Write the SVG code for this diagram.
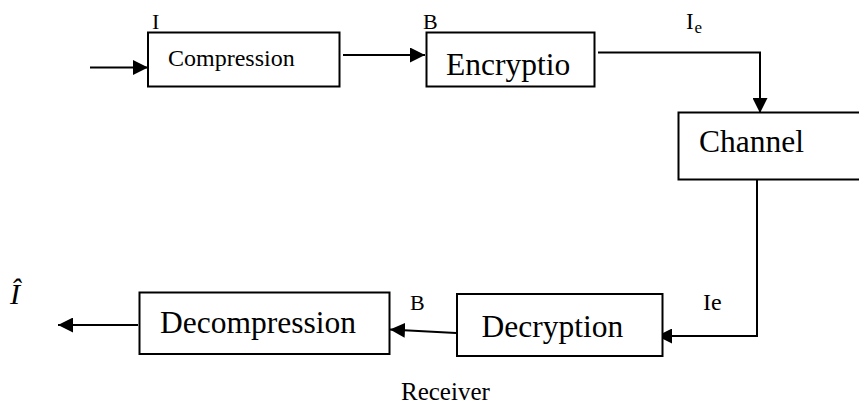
<svg xmlns="http://www.w3.org/2000/svg" width="859" height="406" viewBox="0 0 859 406">
  <style>
    .box { fill: #ffffff; stroke: #000000; stroke-width: 2; }
    .wire { fill: none; stroke: #000000; stroke-width: 2; }
    text { font-family: "Liberation Serif", "Times New Roman", serif; fill: #000000; }
    .big { font-size: 31.5px; }
    .mid { font-size: 24px; }
    .lbl { font-size: 22px; }
  </style>
  <defs>
    <marker id="head" viewBox="0 0 10 10" refX="10" refY="5" markerWidth="15" markerHeight="15" markerUnits="userSpaceOnUse" orient="auto">
      <path d="M0,0 L10,5 L0,10 Z" fill="#000000"/>
    </marker>
  </defs>

  <rect width="859" height="406" fill="#ffffff"/>

  <!-- connectors -->
  <g id="connectors">
    <line class="wire" x1="90" y1="67.5" x2="148" y2="67.5" marker-end="url(#head)"/>
    <line class="wire" x1="343" y1="55" x2="425" y2="55" marker-end="url(#head)"/>
    <polyline class="wire" points="598,52.5 760,52.5 760,113" marker-end="url(#head)"/>
    <polyline class="wire" points="757,180 757,336 657,336" marker-end="url(#head)"/>
    <line class="wire" x1="456" y1="333" x2="390" y2="329.5" marker-end="url(#head)"/>
    <line class="wire" x1="138" y1="325" x2="58" y2="325" marker-end="url(#head)"/>
  </g>

  <!-- signal labels -->
  <g id="labels">
    <text class="lbl" x="152" y="29">I</text>
    <text class="lbl" x="423" y="29">B</text>
    <text x="686" y="28.5" style="font-size:23px">I</text>
    <text x="694.5" y="32.5" style="font-size:17px">e</text>
    <text class="mid" x="703" y="310">Ie</text>
    <text class="lbl" x="410" y="310">B</text>
    <text x="10" y="303.5" style="font-size:30px;font-style:italic">Î</text>
    <text x="401" y="400" style="font-size:25px">Receiver</text>
  </g>

  <g id="compression">
    <rect class="box" x="148" y="32.5" width="191.5" height="54"/>
    <text class="mid" x="168" y="65.5">Compression</text>
  </g>

  <g id="encryption">
    <rect class="box" x="426.5" y="32.5" width="168" height="54"/>
    <text class="big" x="446" y="74.5">Encryptio</text>
  </g>

  <g id="channel">
    <rect class="box" x="678.5" y="112.5" width="200" height="67"/>
    <text class="big" x="699" y="151.5">Channel</text>
  </g>

  <g id="decryption">
    <rect class="box" x="457" y="294" width="205.5" height="62"/>
    <text class="big" x="481.5" y="337">Decryption</text>
  </g>

  <g id="decompression">
    <rect class="box" x="139.5" y="292.5" width="250" height="61.5"/>
    <text class="big" x="160" y="333">Decompression</text>
  </g>
</svg>
